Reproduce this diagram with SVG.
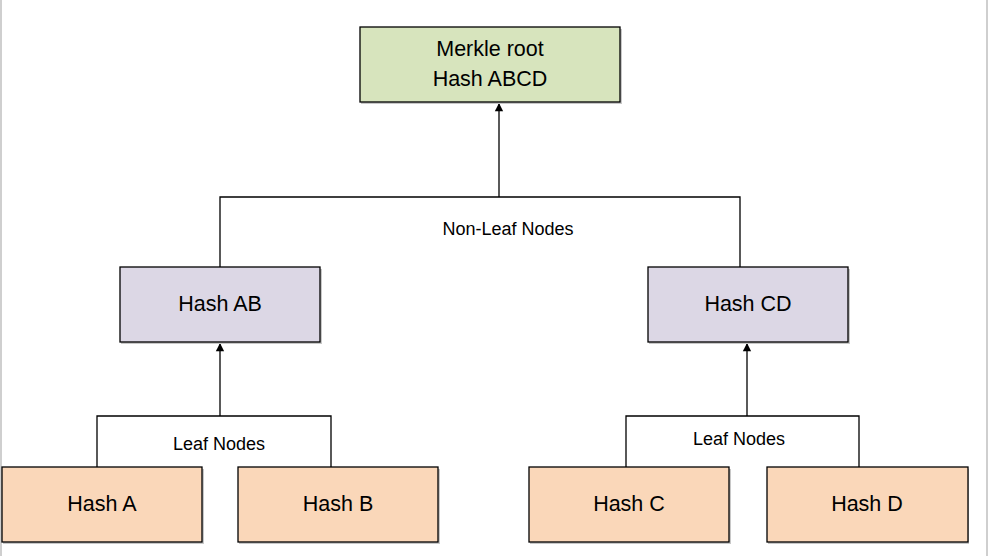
<svg xmlns="http://www.w3.org/2000/svg" width="988" height="556" viewBox="0 0 988 556">
<defs>
<style>
.node rect.box{stroke:#000;stroke-width:1.3}
.node rect.sh{fill:#c8c8c8}
.lbl{font-family:"Liberation Sans","DejaVu Sans",sans-serif;font-size:21.5px;fill:#000;text-anchor:middle;dominant-baseline:central}
.sm{font-family:"Liberation Sans","DejaVu Sans",sans-serif;font-size:18px;fill:#000;text-anchor:middle;dominant-baseline:central}
.root{fill:#d7e4bd}
.mid{fill:#dcd7e5}
.leaf{fill:#fad7b9}
#connectors path{fill:none;stroke:#000;stroke-width:1.3}
</style>
<marker id="arr" viewBox="0 0 10 12" refX="10" refY="6" markerWidth="10" markerHeight="10" markerUnits="userSpaceOnUse" orient="auto">
<path d="M0,1 L10,6 L0,11 Z" fill="#000"/>
</marker>
</defs>
<rect width="988" height="556" fill="#fff"/>
<line x1="1" y1="0" x2="1" y2="556" stroke="#bfbfbf" stroke-width="1.5"/>
<line x1="987" y1="0" x2="987" y2="556" stroke="#bfbfbf" stroke-width="1.5"/>
<g id="connectors">
<path d="M220,267 V197 H740 V267"/>
<path d="M499,197 V103" marker-end="url(#arr)"/>
<path d="M97,467 V416 H331 V467"/>
<path d="M220,416 V343" marker-end="url(#arr)"/>
<path d="M626,467 V416 H859 V467"/>
<path d="M747,416 V343" marker-end="url(#arr)"/>
<text class="sm" x="508" y="229">Non-Leaf Nodes</text>
<text class="sm" x="219" y="444">Leaf Nodes</text>
<text class="sm" x="739" y="439">Leaf Nodes</text>
</g>
<g id="root" class="node">
<rect class="sh" x="361" y="29" width="261" height="75"/>
<rect class="box root" x="360" y="27" width="260" height="75"/>
<text class="lbl" x="490" y="49">Merkle root</text>
<text class="lbl" x="490" y="79">Hash ABCD</text>
</g>
<g id="hashAB" class="node">
<rect class="sh" x="121" y="269" width="201" height="75"/>
<rect class="box mid" x="120" y="267" width="200" height="75"/>
<text class="lbl" x="220" y="304">Hash AB</text>
</g>
<g id="hashCD" class="node">
<rect class="sh" x="649" y="269" width="201" height="75"/>
<rect class="box mid" x="648" y="267" width="200" height="75"/>
<text class="lbl" x="748" y="304">Hash CD</text>
</g>
<g id="hashA" class="node">
<rect class="sh" x="3" y="469" width="201" height="75"/>
<rect class="box leaf" x="2" y="467" width="200" height="75"/>
<text class="lbl" x="102" y="504">Hash A</text>
</g>
<g id="hashB" class="node">
<rect class="sh" x="239" y="469" width="201" height="75"/>
<rect class="box leaf" x="238" y="467" width="200" height="75"/>
<text class="lbl" x="338" y="504">Hash B</text>
</g>
<g id="hashC" class="node">
<rect class="sh" x="530" y="469" width="201" height="75"/>
<rect class="box leaf" x="529" y="467" width="200" height="75"/>
<text class="lbl" x="629" y="504">Hash C</text>
</g>
<g id="hashD" class="node">
<rect class="sh" x="768" y="469" width="201" height="75"/>
<rect class="box leaf" x="767" y="467" width="201" height="75"/>
<text class="lbl" x="867" y="504">Hash D</text>
</g>
</svg>
